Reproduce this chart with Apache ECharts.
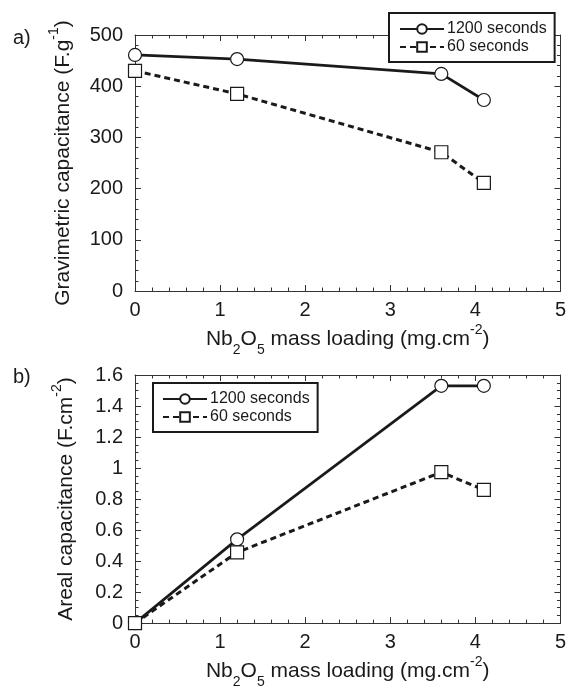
<!DOCTYPE html>
<html>
<head>
<meta charset="utf-8">
<script src="https://cdn.jsdelivr.net/npm/echarts@6/dist/echarts.min.js"></script>
<style>
html,body{margin:0;padding:0;background:#fff;}
#chart{width:569px;height:690px;}
</style>
</head>
<body>
<div id="chart"></div>
<script>
// ---- data ----
var loading = [0, 1.2, 3.6, 4.1];
var gravi1200 = [461, 453, 424, 373];
var gravi60 = [430, 385, 271, 211];
var areal1200 = [0, 0.54, 1.53, 1.53];
var areal60 = [0, 0.456, 0.973, 0.859];
var seriesNames = ['1200 seconds', '60 seconds'];

function pairs(xs, ys) { return xs.map(function (x, i) { return [x, ys[i]]; }); }

var FONT = 'Liberation Sans';
var INK = '#1a1a1a';
var richTitle = {
  m: { fontSize: 21, fontFamily: FONT, color: INK, lineHeight: 24 },
  sup: { fontSize: 14, fontFamily: FONT, color: INK, lineHeight: 14, padding: [0, 0, 18, 0] },
  sub: { fontSize: 14, fontFamily: FONT, color: INK, lineHeight: 14, padding: [22, 0, 0, 0] }
};

function xAxes(gridIndex) {
  var common = {
    gridIndex: gridIndex, type: 'value', min: 0, max: 5, interval: 1,
    axisLine: { show: true, onZero: false, lineStyle: { color: '#333', width: 1 } },
    axisTick: { show: true, inside: true, length: 6, lineStyle: { color: '#333', width: 1 } },
    minorTick: { show: true, splitNumber: 5, length: 3.5, lineStyle: { color: '#333', width: 1 } },
    splitLine: { show: false }, minorSplitLine: { show: false }
  };
  var bottom = Object.assign({}, common, {
    position: 'bottom',
    axisLabel: { show: true, fontSize: 20, fontFamily: FONT, color: INK, margin: 9 },
    name: '{m|Nb}{sub|2}{m|O}{sub|5}{m| mass loading (mg.cm}{sup|-2}{m|)}',
    nameLocation: 'middle', nameGap: 25,
    nameTextStyle: { rich: richTitle }
  });
  var top = Object.assign({}, common, { position: 'top', axisLabel: { show: false } });
  return [bottom, top];
}

function yAxes(gridIndex, max, interval, minorSplit, title) {
  var common = {
    gridIndex: gridIndex, type: 'value', min: 0, max: max, interval: interval,
    axisLine: { show: true, onZero: false, lineStyle: { color: '#333', width: 1 } },
    axisTick: { show: true, inside: true, length: 6, lineStyle: { color: '#333', width: 1 } },
    minorTick: { show: true, splitNumber: minorSplit, length: 3.5, lineStyle: { color: '#333', width: 1 } },
    splitLine: { show: false }, minorSplitLine: { show: false }
  };
  var left = Object.assign({}, common, {
    position: 'left',
    axisLabel: { show: true, fontSize: 20, fontFamily: FONT, color: INK, margin: 12 },
    name: title, nameLocation: 'middle', nameGap: 57, nameRotate: 90,
    nameTextStyle: { rich: richTitle }
  });
  var right = Object.assign({}, common, { position: 'right', axisLabel: { show: false } });
  return [left, right];
}

function lineSeries(name, data, xi, yi, dashed, symbol) {
  return {
    name: name, type: 'line', xAxisIndex: xi, yAxisIndex: yi,
    data: data, clip: false,
    symbol: symbol, symbolSize: 13, showAllSymbol: true,
    lineStyle: { color: INK, width: dashed ? 3 : 2.7, type: dashed ? [6, 4] : 'solid' },
    itemStyle: { color: '#fff', borderColor: INK, borderWidth: 1.2 },
    emphasis: { disabled: true }
  };
}

var legendCommon = {
  orient: 'vertical', data: seriesNames,
  itemWidth: 44, itemHeight: 12, itemGap: 0,
  backgroundColor: '#fff', borderColor: INK, borderWidth: 2, borderRadius: 0,
  textStyle: { fontSize: 16, fontFamily: FONT, color: INK, lineHeight: 18, padding: [0, 0, 0, -2] },
  selectedMode: false
};

var option = {
  animation: false,
  backgroundColor: '#fff',
  grid: [
    { left: 135, top: 35, width: 428, height: 256 },
    { left: 135, top: 375, width: 427, height: 256 }
  ],
  xAxis: xAxes(0).concat(xAxes(1)),
  yAxis: yAxes(0, 500, 100, 5, '{m|Gravimetric capacitance (F.g}{sup|-1}{m|)}')
    .concat(yAxes(1, 1.6, 0.2, 4, '{m|Areal capacitance (F.cm}{sup|-2}{m|)}')),
  legend: [
    Object.assign({}, legendCommon, { left: 389, top: 13, padding: [7, 8, 6, 10] }),
    Object.assign({}, legendCommon, { left: 153, top: 383, padding: [7, 8, 6, 9] })
  ],
  graphic: [
    { type: 'text', left: 13, top: 28, style: { text: 'a)', fontSize: 20, fontFamily: FONT, fill: INK } },
    { type: 'text', left: 13, top: 367, style: { text: 'b)', fontSize: 20, fontFamily: FONT, fill: INK } }
  ],
  series: [
    lineSeries(seriesNames[0], pairs(loading, gravi1200), 0, 0, false, 'circle'),
    lineSeries(seriesNames[1], pairs(loading, gravi60), 0, 0, true, 'rect'),
    lineSeries(seriesNames[0], pairs(loading, areal1200), 2, 2, false, 'circle'),
    lineSeries(seriesNames[1], pairs(loading, areal60), 2, 2, true, 'rect')
  ]
};

var chart = echarts.init(document.getElementById('chart'), null, { renderer: 'canvas' });
chart.setOption(option);
</script>
</body>
</html>
